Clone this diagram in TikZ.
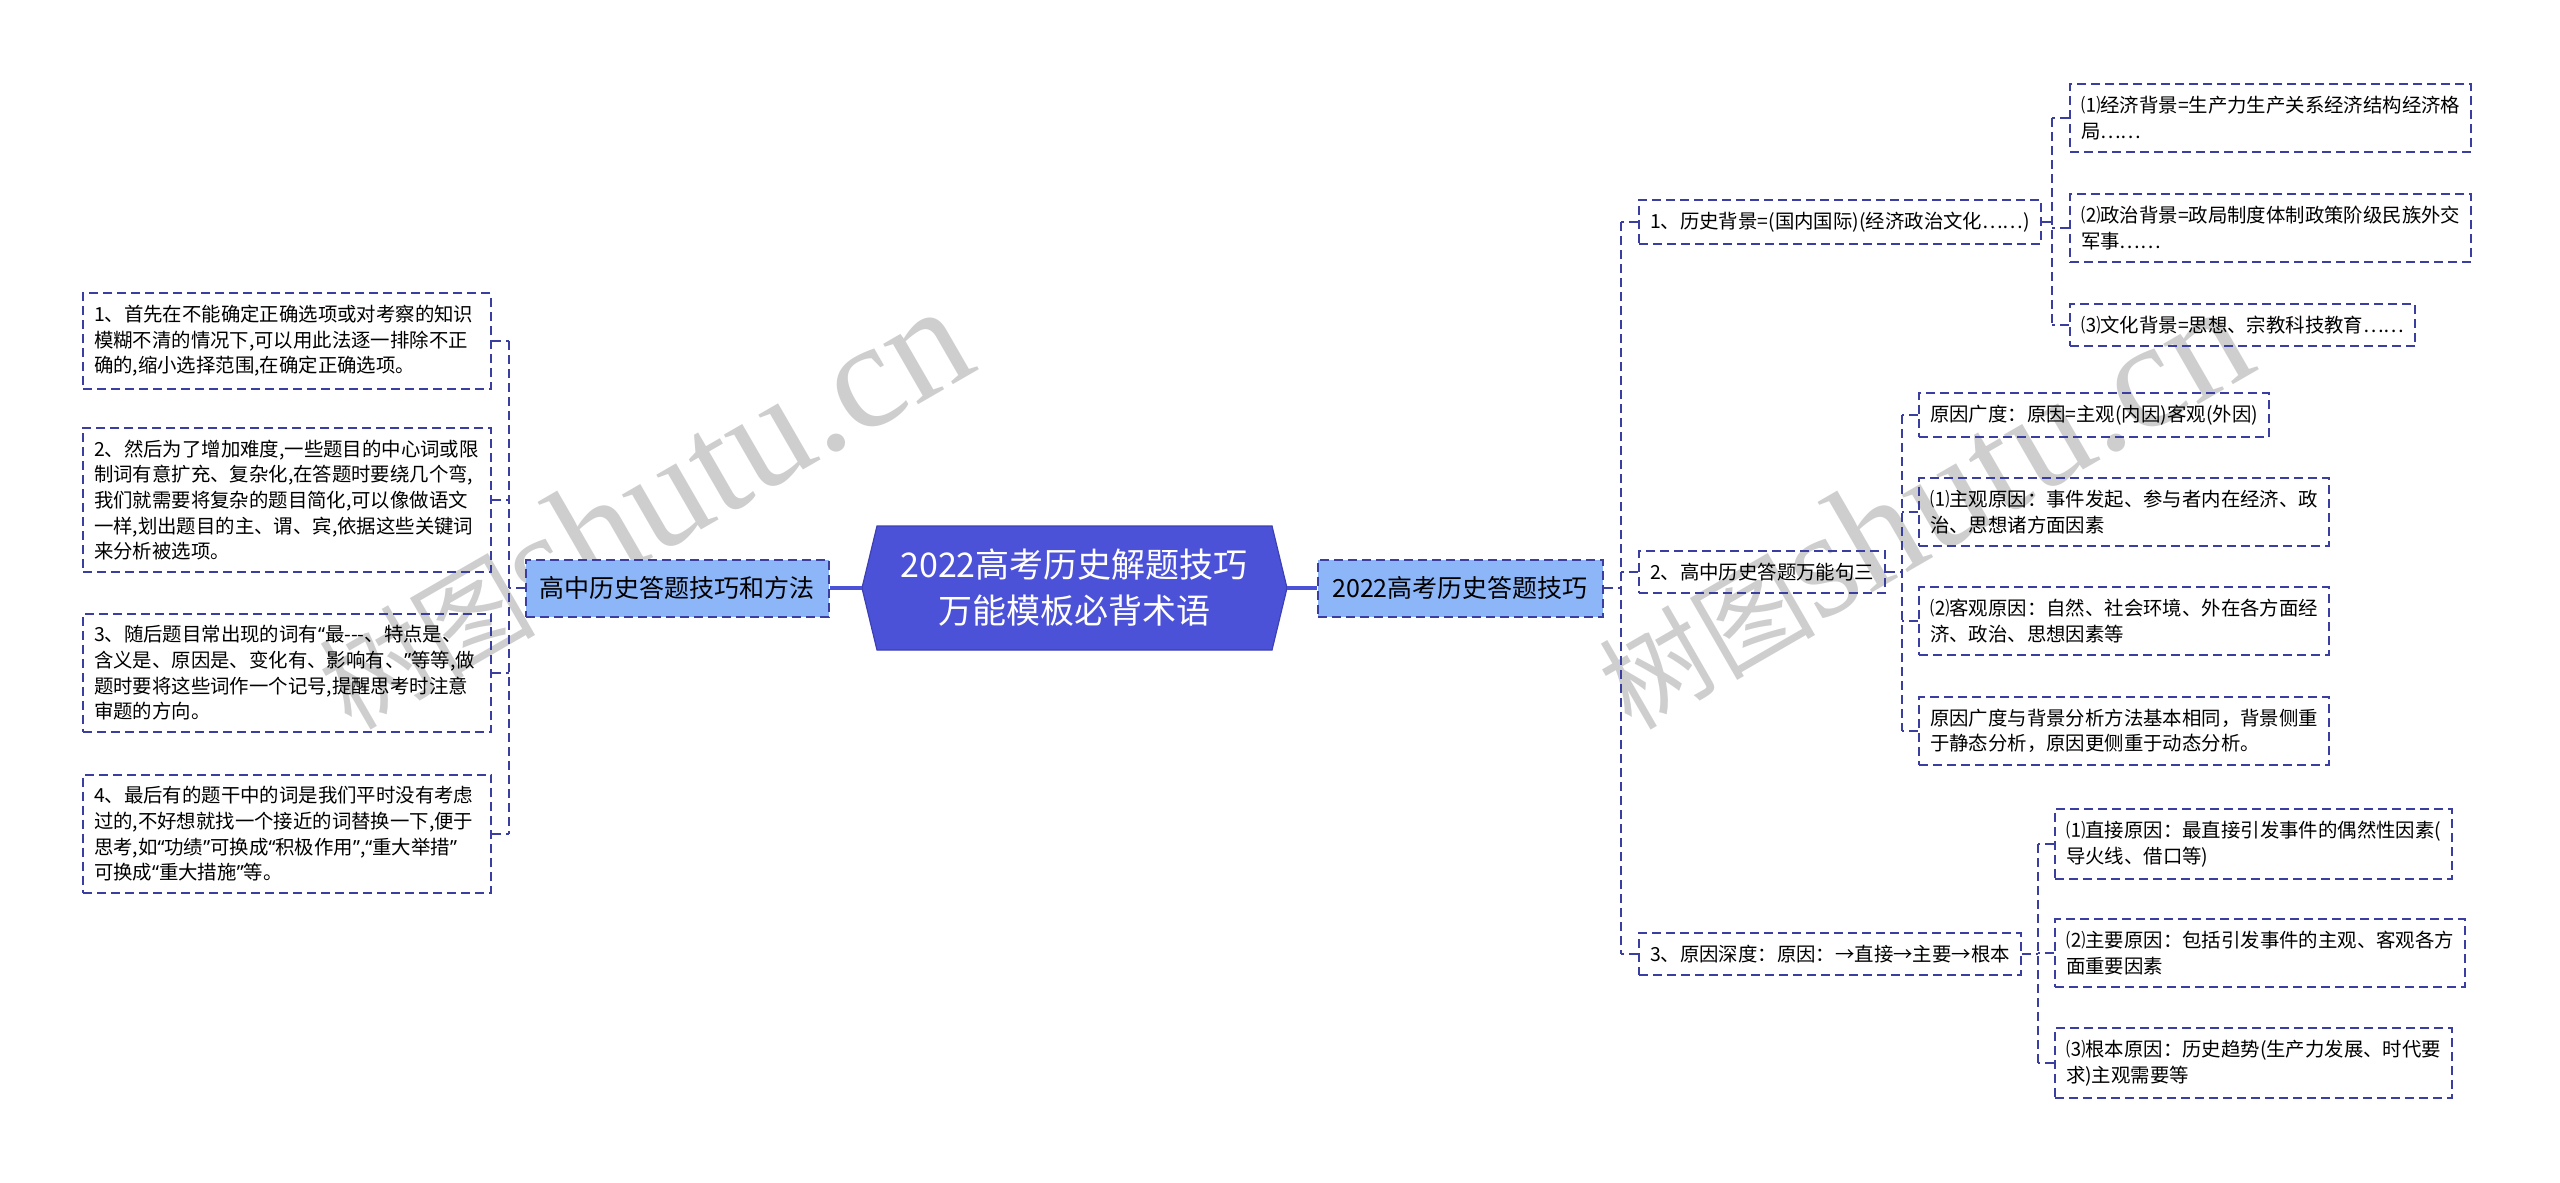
\documentclass[tikz,border=0pt]{standalone}
\usepackage{fontspec}
\setmainfont{Noto Sans CJK SC}
\newfontfamily\wmserif{Liberation Serif}
\newfontfamily\qfont{Noto Sans}
\newcommand\oq{{\qfont “}}
\newcommand\cq{{\qfont ”}}
\usetikzlibrary{calc}
\definecolor{lineblue}{RGB}{58,62,160}
\definecolor{rootfill}{RGB}{76,82,216}
\definecolor{rootdraw}{RGB}{60,64,180}
\definecolor{nodefill}{RGB}{140,182,247}
\definecolor{wmgray}{RGB}{206,206,206}
\tikzset{
  dashline/.style={draw=lineblue, line width=1pt, dash pattern=on 4.5pt off 2.5pt},
  conn/.style={dashline},
  solidconn/.style={draw=rootfill, line width=1.6pt},
  leaf/.style={dashline, align=left, anchor=west, font=\fontsize{9.7}{12.8}\selectfont,
    inner xsep=5.5pt, inner ysep=6pt},
  lleaf/.style={leaf, text width=193pt},
  midnode/.style={dashline, fill=nodefill, font=\fontsize{12.5}{15}\selectfont,
    minimum height=28.5pt, inner xsep=7pt, anchor=center},
  wmark/.style={text=wmgray, rotate=30, inner sep=0pt}
}
\begin{document}
\begin{tikzpicture}[x=0.5pt,y=-0.5pt]
\useasboundingbox (0,0) rectangle (2560,1183);
% watermarks
\node[wmark] (wm1) at (642,508) {{\fontsize{54}{54}\selectfont 树图}{\wmserif\fontsize{76}{76}\selectfont shutu.cn}};
\node[wmark] (wm2) at (1922,508) {{\fontsize{54}{54}\selectfont 树图}{\wmserif\fontsize{76}{76}\selectfont shutu.cn}};

% root
\fill[rootfill, draw=rootdraw, line width=0.6pt] (862,588) -- (877,526) -- (1272,526) -- (1287,588) -- (1272,650) -- (877,650) -- cycle;
\node[text=white, align=center, font=\fontsize{17}{23}\selectfont] (root) at (1074,588) {2022高考历史解题技巧\\万能模板必背术语};
\coordinate (rootW) at (862,588);
\coordinate (rootE) at (1287,588);

% main branches
\node[midnode, minimum width=151pt] (lm) at (677,588) {高中历史答题技巧和方法};
\node[midnode, minimum width=142.5pt] (rm) at (1460,588) {2022高考历史答题技巧};
\draw[solidconn] (rootW) -- (lm.east);
\draw[solidconn] (rootE) -- (rm.west);

% left leaves
\node[lleaf] (l1) at (82,341) {1、首先在不能确定正确选项或对考察的知识\\模糊不清的情况下,可以用此法逐一排除不正\\确的,缩小选择范围,在确定正确选项。};
\node[lleaf] (l2) at (82,500) {2、然后为了增加难度,一些题目的中心词或限\\制词有意扩充、复杂化,在答题时要绕几个弯,\\我们就需要将复杂的题目简化,可以像做语文\\一样,划出题目的主、谓、宾,依据这些关键词\\来分析被选项。};
\node[lleaf] (l3) at (82,673) {3、随后题目常出现的词有\oq 最-\kern0pt-\kern0pt-、特点是、\\含义是、原因是、变化有、影响有、\cq 等等,做\\题时要将这些词作一个记号,提醒思考时注意\\审题的方向。};
\node[lleaf] (l4) at (82,834) {4、最后有的题干中的词是我们平时没有考虑\\过的,不好想就找一个接近的词替换一下,便于\\思考,如\oq 功绩\cq 可换成\oq 积极作用\cq ,\oq 重大举措\cq\\可换成\oq 重大措施\cq 等。};
\coordinate (jl) at (509,588);
\draw[conn] (lm.west) -- (jl);
\draw[conn] (jl |- l1.east) -- (jl |- l4.east);
\foreach \n in {l1,l2,l3,l4} \draw[conn] (\n.east) -- (jl |- \n.east);

% right level 2
\node[leaf] (r1) at (1638,222) {1、历史背景=(国内国际)(经济政治文化……)};
\node[leaf] (r2) at (1638,572) {2、高中历史答题万能句三};
\node[leaf] (r3) at (1638,954) {3、原因深度：原因：→直接→主要→根本};
\coordinate (jr) at (1621,588);
\draw[conn] (rm.east) -- (jr);
\draw[conn] (jr |- r1.west) -- (jr |- r3.west);
\foreach \n in {r1,r2,r3} \draw[conn] (\n.west) -- (jr |- \n.west);

% r1 children
\node[leaf] (r11) at (2069,118) {⑴经济背景=生产力生产关系经济结构经济格\\局……};
\node[leaf] (r12) at (2069,228) {⑵政治背景=政局制度体制政策阶级民族外交\\军事……};
\node[leaf] (r13) at (2069,325) {⑶文化背景=思想、宗教科技教育……};
\coordinate (j1) at (2052,222);
\draw[conn] (r1.east) -- (j1);
\draw[conn] (j1 |- r11.west) -- (j1 |- r13.west);
\foreach \n in {r11,r12,r13} \draw[conn] (\n.west) -- (j1 |- \n.west);

% r2 children
\node[leaf] (r21) at (1918,415) {原因广度：原因=主观(内因)客观(外因)};
\node[leaf] (r22) at (1918,512) {⑴主观原因：事件发起、参与者内在经济、政\\治、思想诸方面因素};
\node[leaf] (r23) at (1918,621) {⑵客观原因：自然、社会环境、外在各方面经\\济、政治、思想因素等};
\node[leaf] (r24) at (1918,731) {原因广度与背景分析方法基本相同，背景侧重\\于静态分析，原因更侧重于动态分析。};
\coordinate (j2) at (1902,572);
\draw[conn] (r2.east) -- (j2);
\draw[conn] (j2 |- r21.west) -- (j2 |- r24.west);
\foreach \n in {r21,r22,r23,r24} \draw[conn] (\n.west) -- (j2 |- \n.west);

% r3 children
\node[leaf] (r31) at (2054,844) {⑴直接原因：最直接引发事件的偶然性因素(\\导火线、借口等)};
\node[leaf] (r32) at (2054,953) {⑵主要原因：包括引发事件的主观、客观各方\\面重要因素};
\node[leaf] (r33) at (2054,1063) {⑶根本原因：历史趋势(生产力发展、时代要\\求)主观需要等};
\coordinate (j3) at (2038,954);
\draw[conn] (r3.east) -- (j3);
\draw[conn] (j3 |- r31.west) -- (j3 |- r33.west);
\foreach \n in {r31,r32,r33} \draw[conn] (\n.west) -- (j3 |- \n.west);
\end{tikzpicture}
\end{document}
